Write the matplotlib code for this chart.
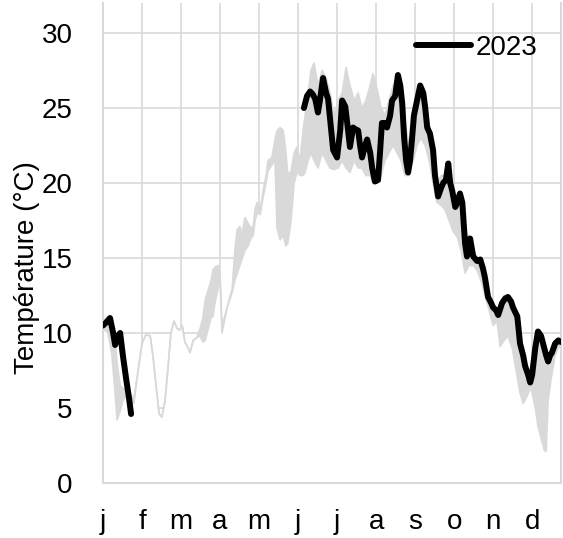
import numpy as np
import matplotlib
matplotlib.use("Agg")
import matplotlib.pyplot as plt

plt.rcParams['font.family'] = ['Liberation Sans', 'DejaVu Sans']

# x positions are in months (0 = 1 January), values in degrees C
months = ['j', 'f', 'm', 'a', 'm', 'j', 'j', 'a', 's', 'o', 'n', 'd']

# historical range (lower / upper envelope)
band_x = [0.00, 0.13, 0.23, 0.31, 0.36, 0.44, 0.51, 0.59, 0.69, 0.79, 0.90, 1.00,
          1.10, 1.21, 1.28, 1.36, 1.44, 1.51, 1.59, 1.67, 1.74, 1.82, 1.90, 1.97,
          2.03, 2.10, 2.18, 2.23, 2.31, 2.41, 2.49, 2.56, 2.62, 2.69, 2.77, 2.82,
          2.87, 2.95, 3.00, 3.05, 3.13, 3.18, 3.26, 3.31, 3.38, 3.44, 3.51, 3.56,
          3.64, 3.72, 3.79, 3.85, 3.90, 3.95, 4.03, 4.10, 4.18, 4.23, 4.33, 4.41,
          4.46, 4.54, 4.62, 4.69, 4.74, 4.82, 4.90, 4.97, 5.05, 5.13, 5.18, 5.26,
          5.33, 5.41, 5.51, 5.62, 5.72, 5.82, 5.92, 6.03, 6.13, 6.23, 6.33, 6.44,
          6.54, 6.64, 6.74, 6.85, 6.92, 7.03, 7.13, 7.23, 7.33, 7.44, 7.54, 7.64,
          7.74, 7.85, 7.95, 8.05, 8.15, 8.26, 8.36, 8.46, 8.56, 8.67, 8.77, 8.87,
          8.97, 9.08, 9.18, 9.28, 9.38, 9.49, 9.59, 9.69, 9.79, 9.90, 10.00, 10.10,
          10.18, 10.28, 10.38, 10.49, 10.59, 10.69, 10.77, 10.87, 10.97, 11.08,
          11.15, 11.23, 11.31, 11.36, 11.41, 11.49, 11.59, 11.67, 11.77]
band_lo = [10.3, 10.0, 8.5, 6.0, 4.2, 4.8, 5.5, 5.8, 5.5, 5.3, 7.5, 9.3,
           9.9, 9.8, 8.5, 6.5, 4.6, 4.4, 5.5, 7.8, 10.0, 10.8, 10.3, 10.2,
           10.5, 9.4, 9.0, 8.7, 9.5, 9.7, 9.8, 9.4, 9.5, 10.2, 11.0, 11.1,
           12.0, 13.0, 13.5, 10.0, 11.0, 11.7, 12.3, 12.7, 13.5, 14.0, 14.5, 14.9,
           15.5, 15.8, 16.3, 16.5, 17.5, 18.0, 17.9, 19.0, 20.0, 20.8, 21.2, 21.5,
           17.0, 16.2, 16.5, 15.8, 16.0, 17.5, 20.0, 20.7, 20.5, 20.5, 20.7, 21.5,
           22.0, 21.5, 21.0, 22.0, 21.5, 21.0, 20.9, 21.0, 21.5, 21.0, 20.7, 21.5,
           21.0, 21.0, 20.5, 20.5, 20.0, 20.0, 20.5, 21.5, 22.0, 22.5, 22.0, 21.5,
           20.5, 20.5, 21.5, 22.5, 23.0, 22.5, 21.5, 20.0, 18.7, 18.5, 18.2, 17.5,
           16.8, 16.4, 15.5, 14.0, 14.5, 14.5, 14.2, 13.5, 12.5, 11.5, 10.5, 10.8,
           9.1, 9.5, 9.8, 9.0, 7.5, 6.0, 5.3, 5.8, 6.4, 5.0,
           3.8, 3.0, 2.2, 2.1, 5.5, 7.0, 8.5, 9.0, 9.2]
band_hi = [10.8, 11.0, 10.0, 9.5, 8.0, 6.5, 6.3, 6.3, 6.0, 5.6, 7.5, 9.3,
           9.9, 9.8, 8.5, 6.5, 4.6, 4.4, 5.5, 7.8, 10.0, 10.8, 10.3, 10.2,
           10.5, 9.4, 9.0, 8.7, 9.5, 9.7, 10.3, 11.0, 12.2, 12.8, 13.5, 14.2,
           14.4, 14.5, 14.0, 10.5, 11.2, 11.7, 12.5, 12.9, 15.5, 16.9, 17.1, 16.5,
           17.7, 17.3, 17.0, 17.1, 18.3, 18.7, 18.2, 19.4, 20.5, 21.5, 21.7, 22.9,
           23.5, 23.7, 23.5, 22.0, 20.5, 20.8, 22.0, 22.4, 21.5, 23.5, 24.5, 26.0,
           27.5, 28.0, 26.5, 27.5, 27.0, 26.0, 24.5, 25.5, 26.0, 27.7, 26.5, 25.5,
           26.0, 25.0, 25.5, 26.5, 27.3, 26.2, 25.0, 24.5, 25.5, 26.5, 27.0, 26.0,
           24.0, 22.5, 24.0, 25.8, 26.5, 25.5, 24.0, 22.5, 20.0, 20.5, 20.5, 21.0,
           19.5, 19.0, 19.0, 16.5, 16.5, 15.5, 15.0, 15.0, 14.0, 12.5, 12.0, 11.5,
           12.0, 12.5, 12.5, 12.0, 11.0, 9.5, 8.5, 7.5, 7.0, 9.0,
           10.0, 9.5, 9.0, 8.5, 8.5, 9.0, 9.5, 9.7, 9.6]

# 2023 daily temperature (two available stretches)
y2023_jan_x = [0.00, 0.08, 0.18, 0.26, 0.31, 0.38, 0.44, 0.51, 0.59, 0.67, 0.72]
y2023_jan = [10.5, 10.7, 11.0, 10.0, 9.2, 9.8, 10.0, 8.5, 7.0, 5.6, 4.6]

y2023_x = [5.15, 5.23, 5.31, 5.38, 5.44, 5.51, 5.56, 5.64, 5.72, 5.77,
           5.85, 5.90, 6.00, 6.08, 6.13, 6.21, 6.26, 6.33, 6.41, 6.46,
           6.54, 6.59, 6.64, 6.72, 6.77, 6.85, 6.90, 6.97, 7.05, 7.10,
           7.15, 7.23, 7.28, 7.36, 7.41, 7.49, 7.56, 7.62, 7.67, 7.72,
           7.77, 7.82, 7.87, 7.92, 7.97, 8.05, 8.13, 8.21, 8.26, 8.31,
           8.38, 8.46, 8.51, 8.59, 8.67, 8.72, 8.79, 8.85, 8.90, 8.95,
           9.03, 9.08, 9.15, 9.21, 9.28, 9.33, 9.41, 9.49, 9.59, 9.67,
           9.74, 9.79, 9.87, 9.95, 10.00, 10.08, 10.13, 10.23, 10.31, 10.38,
           10.46, 10.51, 10.62, 10.69, 10.77, 10.82, 10.90, 10.95, 11.00, 11.08,
           11.15, 11.23, 11.28, 11.36, 11.41, 11.46, 11.51, 11.59, 11.67, 11.74]
y2023 = [25.0, 25.8, 26.1, 25.9, 25.6, 24.7, 25.5, 27.0, 26.0, 25.6,
         23.5, 22.2, 21.7, 23.5, 25.5, 25.1, 24.0, 22.4, 23.7, 23.6,
         23.5, 22.5, 21.7, 22.5, 22.9, 22.0, 21.0, 20.1, 20.2, 22.0,
         24.0, 24.0, 23.7, 24.5, 25.5, 25.8, 27.2, 26.5, 25.3, 23.0,
         21.5, 20.7, 21.5, 22.9, 24.5, 25.5, 26.5, 26.0, 25.0, 23.7,
         23.3, 22.2, 20.5, 19.1, 19.7, 20.0, 20.2, 21.3, 20.0, 19.5,
         18.4, 18.7, 19.3, 18.7, 16.0, 15.1, 16.3, 15.1, 14.8, 14.9,
         14.3, 13.7, 12.4, 12.0, 11.7, 11.5, 11.2, 12.0, 12.3, 12.4,
         12.1, 11.7, 11.1, 9.3, 8.5, 7.8, 7.2, 6.7, 7.2, 9.0,
         10.1, 9.8, 9.3, 8.5, 8.1, 8.5, 8.7, 9.3, 9.5, 9.4]

grey = '#d9d9d9'

fig = plt.figure(figsize=(5.63, 5.38), dpi=100)
ax = fig.add_axes([103 / 563, 55 / 538, 458 / 563, 480 / 538])

ax.grid(True, color=grey, linewidth=1.2)
ax.xaxis.set_zorder(0.5)
ax.yaxis.set_zorder(0.5)

# white area under the lower envelope hides the grid, grey area is the range
ax.fill_between(band_x, 0, band_lo, facecolor='white', edgecolor='none', zorder=1.5)
ax.fill_between(band_x, band_lo, band_hi, facecolor=grey, edgecolor='none', zorder=1.6)
ax.plot(band_x, band_lo, color=grey, linewidth=1.2, zorder=1.7)
ax.plot(band_x, band_hi, color=grey, linewidth=1.2, zorder=1.7)

ax.plot(y2023_jan_x, y2023_jan, color='black', linewidth=4.3, zorder=3,
        solid_capstyle='round', solid_joinstyle='round')
ax.plot(y2023_x, y2023, color='black', linewidth=4.3, zorder=3, label='2023',
        solid_capstyle='round', solid_joinstyle='round')

ax.set_xlim(0, 11.74)
ax.set_ylim(0, 32)
ax.set_xticks(range(12))
ax.set_xticklabels(months)
ax.set_yticks(range(0, 31, 5))
ax.tick_params(axis='both', length=0, labelsize=20)
ax.tick_params(axis='y', pad=22)
ax.tick_params(axis='x', pad=19)

for side in ['left', 'bottom', 'right']:
    ax.spines[side].set_color(grey)
    ax.spines[side].set_linewidth(1.5)
    ax.spines[side].set_zorder(2.5)
ax.spines['top'].set_visible(False)

ax.set_ylabel('Température (°C)', fontsize=20, va='center')
ax.yaxis.set_label_coords(-0.166, 0.448)

ax.legend(loc='center left', bbox_to_anchor=(0.683, 0.906), frameon=False,
          fontsize=20, handlelength=2.0, handletextpad=0.15,
          borderpad=0, borderaxespad=0)

fig.savefig('out.png', dpi=100)
